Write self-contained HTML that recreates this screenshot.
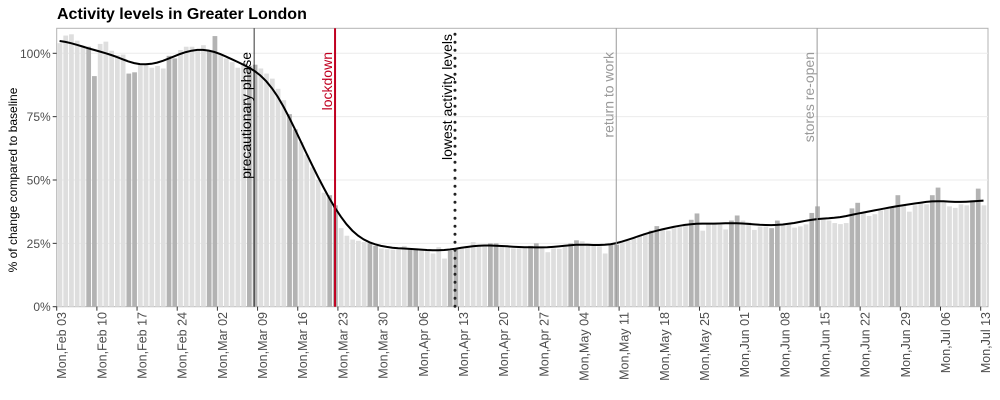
<!DOCTYPE html>
<html><head><meta charset="utf-8"><style>
body{margin:0;background:#fff;}
svg{display:block;font-family:"Liberation Sans",Arial,sans-serif;}
</style></head><body>
<svg id="chart" width="1000" height="400" viewBox="0 0 1000 400"></svg>
<script>
const values = [104,107,107.5,105,103,102.6,91,103.7,104.6,101,99.3,99.5,92,92.5,96,95.4,94.3,95,94,99,98,101.3,102.6,102.6,101,103.2,101,106.8,99.5,98,96.5,94.3,96,95,95.5,94,92,90,86,
81.5,76,70,65,60,55,50,45,44,40,31,28,26.5,26,25.5,25,24,23,22.7,22.5,22.5,24,23,23,22.7,22.5,21,23.5,19,22,23,23.5,24,25.5,24,24,25,25,24,23.5,
23,23,23,24,25,23,21.5,23,22.8,24,25,26.2,25.8,25,24,23.8,21,24.5,24.5,25.4,26,27,28,29,30,31.8,30.5,30,31,31.4,32.7,34.3,36.8,30,32.7,32.7,32.3,30.5,34,36,34,33.3,
30.3,31.6,31.6,31,34,32.3,32.5,31.2,31.7,32.5,37,39.6,34.5,34,33,32.6,33,38.8,41,37,35.8,36.5,38,38.8,39.5,44,40,37.5,40,40.7,40.4,44,47,41.3,39.6,39,40.4,40,42,46.6,40];
const tickLabels = ["Mon,Feb 03","Mon,Feb 10","Mon,Feb 17","Mon,Feb 24","Mon,Mar 02","Mon,Mar 09","Mon,Mar 16","Mon,Mar 23","Mon,Mar 30","Mon,Apr 06","Mon,Apr 13","Mon,Apr 20","Mon,Apr 27","Mon,May 04","Mon,May 11","Mon,May 18","Mon,May 25","Mon,Jun 01","Mon,Jun 08","Mon,Jun 15","Mon,Jun 22","Mon,Jun 29","Mon,Jul 06","Mon,Jul 13"];
const yTicks = [0,25,50,75,100];
const events = [
 {label:"precautionary phase", day:34.4, color:"#000", width:0.8, dash:null, top:52},
 {label:"lockdown", day:48.5, color:"#c00020", width:2, dash:null, top:52},
 {label:"lowest activity levels", day:69.4, color:"#222", width:3, dash:"0,8", top:34},
 {label:"return to work", day:97.5, color:"#999", width:1, dash:null, top:52},
 {label:"stores re-open", day:132.5, color:"#999", width:1, dash:null, top:52}
];
const svg = document.getElementById('chart');
const NS = "http://www.w3.org/2000/svg";
const L=56.7, R=988, T=28.3, B=306.7, DAY=5.739;
const x = d => L + d*DAY;
const y = v => B - v*(B-53.3)/100;
function mk(tag, attrs, parent){const e=document.createElementNS(NS,tag);for(const k in attrs)e.setAttribute(k,attrs[k]);(parent||svg).appendChild(e);return e;}

let t = mk('text',{x:57,y:19,'font-size':16,'font-weight':'bold',fill:'#000'});


t.textContent="Activity levels in Greater London";

let frame = mk('rect',{x:L,y:T,width:R-L,height:B-T,fill:'#fff',stroke:'#b3b3b3','stroke-width':1});



yTicks.forEach(v=>{
  if(v>0){const g=mk('line',{x1:L,x2:R,y1:y(v),y2:y(v),stroke:'#ebebeb','stroke-width':1});
  
  }
  const tk=mk('line',{x1:L-4,x2:L,y1:y(v),y2:y(v),stroke:'#333','stroke-width':1});
  
  
  const lb=mk('text',{x:L-6,y:y(v)+4.5,'font-size':12,fill:'#4d4d4d','text-anchor':'end'});
  
  
  lb.textContent=v+"%";
});

values.forEach((v,i)=>{
  const wk=i%7;
  const b=mk('rect',{x:x(i)+0.9,y:y(v),width:DAY-1,height:B-y(v),fill:(wk===5||wk===6)?'#b3b3b3':'#dedede'});
  
  
});

const pts=[];
for(let i=0;i<values.length;i++){
  let s=0,w=0;
  for(let j=0;j<values.length;j++){const k=Math.exp(-((i-j)**2)/(2*3*3));s+=k*values[j];w+=k;}
  pts.push([x(i)+DAY/2,y(s/w)]);
}
const line=mk('path',{d:'M'+pts.map(p=>p[0].toFixed(1)+','+p[1].toFixed(1)).join('L'),fill:'none',stroke:'#000','stroke-width':2});



events.forEach(ev=>{
  const ex=x(ev.day);
  const a={x1:ex,x2:ex,y1:T+6,y2:B,stroke:ev.color,'stroke-width':ev.width};
  if(ev.dash){a['stroke-dasharray']=ev.dash;a['stroke-linecap']='round';}
  else{a.y1=T;}
  const ln=mk('line',a);
  
  
  const lb=mk('text',{x:0,y:0,'font-size':14,fill:ev.color==='#222'?'#000':ev.color,'text-anchor':'end',transform:'translate('+(ex-3)+','+ev.top+') rotate(-90)'});
  
  
  lb.textContent=ev.label;
});

tickLabels.forEach((s,i)=>{
  const tx=x(i*7);
  const tk=mk('line',{x1:tx,x2:tx,y1:B,y2:B+4,stroke:'#333','stroke-width':1});
  
  
  const lb=mk('text',{x:0,y:0,'font-size':12.5,fill:'#4d4d4d','text-anchor':'end',transform:'translate('+(tx+9.5)+',312) rotate(-90)'});
  
  
  lb.textContent=s;
});

const yt=mk('text',{x:0,y:0,'font-size':12,fill:'#000','text-anchor':'middle',transform:'translate(17,180) rotate(-90)'});


yt.textContent="% of change compared to baseline";
</script>
</body></html>
